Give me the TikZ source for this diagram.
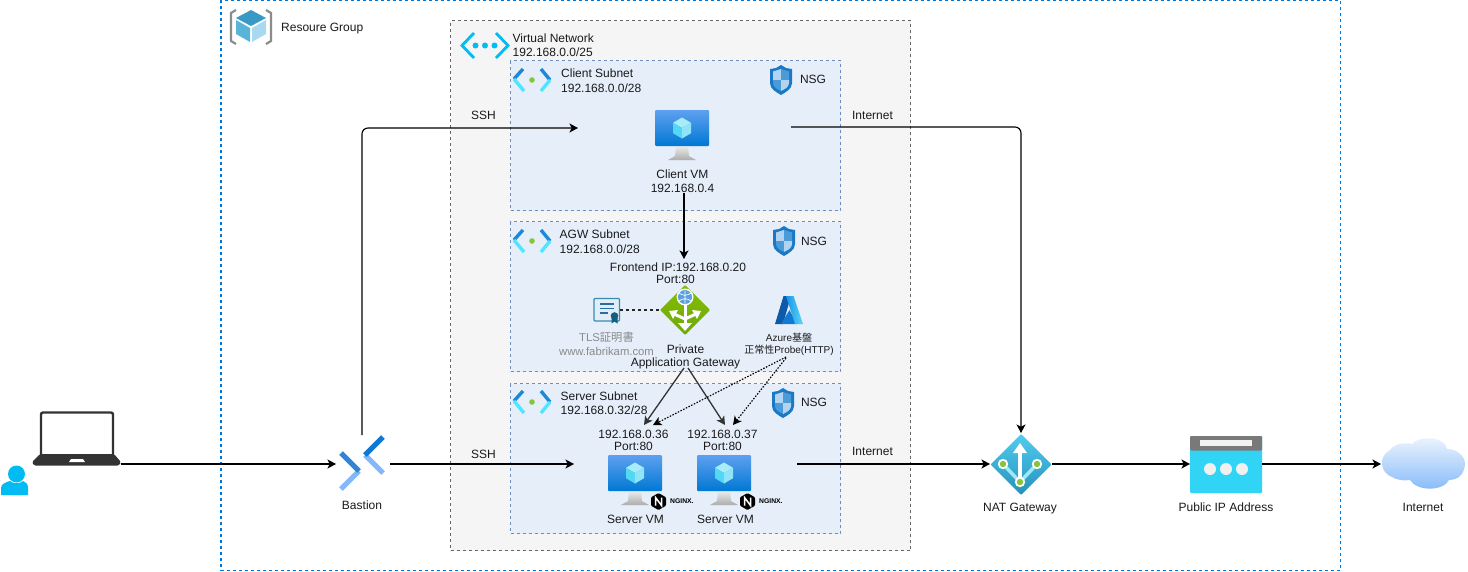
\documentclass[tikz,border=0pt]{standalone}
\usepackage{fontspec}
\setmainfont{Liberation Sans}
\newfontfamily\cjk{Noto Sans CJK JP}
\usetikzlibrary{arrows.meta}
\definecolor{rgblue}{HTML}{0078D7}
\definecolor{vnetfill}{HTML}{F5F5F5}
\definecolor{vnetline}{HTML}{666666}
\definecolor{subfill}{HTML}{E6EEFA}
\definecolor{subline}{HTML}{6C8EBF}
\definecolor{txt}{HTML}{1A1A1A}
\definecolor{cyanic}{HTML}{00BCF2}
\definecolor{subdark}{HTML}{1E88D8}
\definecolor{sublight}{HTML}{50E6FF}
\definecolor{greendot}{HTML}{86C53A}
\definecolor{shieldo}{HTML}{1B78C4}
\definecolor{shieldl}{HTML}{B2D4F0}
\definecolor{shieldm}{HTML}{4B9BD9}
\definecolor{vmtop}{HTML}{5EA0EF}
\definecolor{vmbot}{HTML}{0078D4}
\definecolor{cubea}{HTML}{A8ECFA}
\definecolor{cubeb}{HTML}{50D8F5}
\definecolor{cubec}{HTML}{8FE4F8}
\definecolor{rgtop}{HTML}{3999C6}
\definecolor{rgleft}{HTML}{59B4D9}
\definecolor{rgright}{HTML}{A8D9EE}
\definecolor{dark}{HTML}{333333}
\definecolor{basta}{HTML}{2F86D8}
\definecolor{bastb}{HTML}{85B8F8}
\definecolor{bastc}{HTML}{0F78D4}
\definecolor{agwtop}{HTML}{84BE00}
\definecolor{agwbot}{HTML}{6EA80F}
\definecolor{globe}{HTML}{5AA0DC}
\definecolor{certd}{HTML}{3A8BB0}
\definecolor{certf}{HTML}{E1EEF8}
\definecolor{certl}{HTML}{286EA0}
\definecolor{certr}{HTML}{145F7D}
\definecolor{aza}{HTML}{0E5AAA}
\definecolor{azb}{HTML}{1478D2}
\definecolor{azc}{HTML}{1996E6}
\definecolor{azd}{HTML}{5AD7FA}
\definecolor{nattop}{HTML}{50CDF0}
\definecolor{natbot}{HTML}{2691B9}
\definecolor{natline}{HTML}{9DE8FA}
\definecolor{pipc}{HTML}{32D4F5}
\definecolor{cloudt}{HTML}{F0F6FE}
\definecolor{cloudb}{HTML}{83B9F9}
\definecolor{graytxt}{HTML}{8A8A8A}
\tikzset{
  conn/.style={draw=black,line width=1.15pt,-{Stealth[length=8.5pt,width=9pt,inset=2.2pt]}},
  lbl/.style={font=\fontsize{12}{14.5}\selectfont,text=txt,inner sep=0pt,align=center},
  lbll/.style={font=\fontsize{12}{14.5}\selectfont,text=txt,inner sep=0pt,align=left,anchor=west},
  grayl/.style={lbl,font=\fontsize{11.3}{14}\selectfont,text=graytxt},
  area/.style={dash pattern=on 3pt off 3pt,line width=.9pt},
  pics/vmicon/.style={code={
    \shade[top color=gray!15,bottom color=gray!65] (-6,18) -- (6,18) -- (7,28) -- (14,32) -- (-14,32) -- (-7,28) -- cycle;
    \shade[top color=vmtop,bottom color=vmbot,rounded corners=1pt] (-27,-18) rectangle (27,18);
    \fill[cubea] (0,-10.5) -- (9,-5.2) -- (0,0) -- (-9,-5.2) -- cycle;
    \fill[cubeb] (-9,-5.2) -- (0,0) -- (0,10.5) -- (-9,5.2) -- cycle;
    \fill[cubec] (9,-5.2) -- (0,0) -- (0,10.5) -- (9,5.2) -- cycle;
  }},
  pics/subneticon/.style={code={
    \draw[line width=3.4pt,draw=subdark] (-9,-11) -- (-18,-1);
    \draw[line width=3.4pt,draw=sublight] (-18,-1) -- (-8,11);
    \draw[line width=3.4pt,draw=subdark] (9,-11) -- (18,0);
    \draw[line width=3.4pt,draw=sublight] (18,0) -- (9,11);
    \fill[greendot] (0,0) circle[radius=2.8];
  }},
  pics/shieldicon/.style={code={
    \fill[shieldo] (0,-15) -- (5,-12) -- (11,-11) -- (11,3) .. controls (11,9) and (5,12) .. (0,15) .. controls (-5,12) and (-11,9) .. (-11,3) -- (-11,-11) -- (-5,-12) -- cycle;
    \fill[shieldl] (0,-11) -- (0,0) -- (-8,0) -- (-8,-8.5) -- cycle;
    \fill[shieldm] (0,-11) -- (0,0) -- (8,0) -- (8,-8.5) -- cycle;
    \fill[shieldm] (-8,0) -- (0,0) -- (0,11) .. controls (-4,9) and (-8,7) .. (-8,3) -- cycle;
    \fill[shieldl] (8,0) -- (0,0) -- (0,11) .. controls (4,9) and (8,7) .. (8,3) -- cycle;
  }},
  pics/nginxicon/.style={code={
    \fill[black,rounded corners=1pt] (0,-8.5) -- (7.5,-4.2) -- (7.5,4.2) -- (0,8.5) -- (-7.5,4.2) -- (-7.5,-4.2) -- cycle;
    \draw[white,line width=1.5pt] (-3,4) -- (-3,-4) -- (3,4) -- (3,-4);
    \node[inner sep=0pt,anchor=west,font=\fontsize{6.8}{8}\selectfont\bfseries,text=black] at (11.5,-0.5) {NGINX.};
  }}
}
\begin{document}
\begin{tikzpicture}[x=1pt,y=-1pt]
\useasboundingbox (0,0) rectangle (1468,571);
\fill[white] (0,0) rectangle (1468,571);
% areas
\node[area,line width=1.1pt,draw=rgblue,inner sep=0pt,minimum width=1119.5pt,minimum height=570pt] (rg) at (780.75,285.5) {};
\node[area,draw=vnetline,fill=vnetfill,inner sep=0pt,minimum width=460pt,minimum height=530pt] (vnet) at (680.5,285.5) {};
\node[area,draw=subline,fill=subfill,inner sep=0pt,minimum width=330pt,minimum height=150pt] (clientsub) at (675.5,135.5) {};
\node[area,draw=subline,fill=subfill,inner sep=0pt,minimum width=330pt,minimum height=150pt] (agwsub) at (675.5,296.5) {};
\node[area,draw=subline,fill=subfill,inner sep=0pt,minimum width=330pt,minimum height=150pt] (serversub) at (675.5,458.5) {};
% resource group icon
\begin{scope}[shift={(251,27)}]
  \draw[line width=2.2pt,draw=gray!90] (-15,-17) -- (-20,-14) -- (-20,14) -- (-15,17);
  \draw[line width=2.2pt,draw=gray!90] (15,-17) -- (20,-14) -- (20,14) -- (15,17);
  \fill[rgtop] (0,-17) -- (15,-9) -- (0,-1) -- (-15,-9) -- cycle;
  \fill[rgleft] (-15,-7) -- (-1,1) -- (-1,15) -- (-15,7) -- cycle;
  \fill[rgright] (15,-7) -- (1,1) -- (1,15) -- (15,7) -- cycle;
\end{scope}
% vnet icon
\begin{scope}[shift={(485,45.5)}]
  \draw[cyanic,line width=2.8pt] (-11,-12.5) -- (-23,0) -- (-11,12.5);
  \draw[cyanic,line width=2.8pt] (11,-12.5) -- (23,0) -- (11,12.5);
  \fill[cyanic] (-9.5,0) circle[radius=3] (0,0) circle[radius=3] (9.5,0) circle[radius=3];
\end{scope}
\pic at (532,80) {subneticon};
\pic at (532,241) {subneticon};
\pic at (532,402) {subneticon};
\pic at (781,80) {shieldicon};
\pic at (784,241) {shieldicon};
\pic at (783,403) {shieldicon};
% VMs
\pic at (682,128) {vmicon};
\pic at (635,473) {vmicon};
\pic at (724,473) {vmicon};
\pic at (658.5,501.5) {nginxicon};
\pic at (747.5,501.5) {nginxicon};
% user and laptop
\fill[cyanic] (16.5,474) circle[radius=8.5];
\fill[cyanic] (1,495) -- (1,488) .. controls (1,484) and (6,482) .. (10,481) .. controls (13,484) and (20,484) .. (23,481) .. controls (26,482) and (28,484) .. (28,488) -- (28,495) -- cycle;
\draw[draw=dark,line width=2.4pt,rounded corners=2pt] (41,455) -- (41,412.5) -- (113,412.5) -- (113,455);
\fill[dark,rounded corners=1.5pt] (40,454) -- (114,454) -- (121,462) -- (119,465.5) -- (34,465.5) -- (32,462) -- cycle;
\fill[white] (69,462) -- (71,459) -- (83,459) -- (85,462) -- cycle;
% bastion
\draw[draw=bastb,line width=5.2pt] (359,471) -- (341,489);
\draw[draw=basta,line width=5.2pt] (341,453) -- (359,471);
\draw[draw=bastb,line width=5.2pt] (365,455) -- (383,473);
\draw[draw=bastc,line width=5.2pt] (383,437) -- (365,455);
% AGW diamond
\shade[top color=agwtop,bottom color=agwbot,rounded corners=1pt] (685,285) -- (710,310) -- (685,335) -- (660,310) -- cycle;
\begin{scope}[draw=white,fill=white]
  \draw[line width=3pt] (685,304) -- (685,324);
  \fill (685,331) -- (678,323) -- (692,323) -- cycle;
  \draw[line width=3pt] (685,319) -- (674,314);
  \fill (669,311) -- (678,310) -- (673,319) -- cycle;
  \draw[line width=3pt] (685,319) -- (696,314);
  \fill (701,311) -- (692,310) -- (697,319) -- cycle;
\end{scope}
\fill[white] (685,297) circle[radius=8.5];
\fill[globe] (685,297) circle[radius=7];
\draw[white,line width=.7pt] (679,293) .. controls (683,296) and (687,296) .. (691,293) (679,301) .. controls (683,298) and (687,298) .. (691,301) (685,290.5) -- (685,303.5);
% certificate
\draw[draw=certd,fill=certf,line width=1.2pt,rounded corners=1pt] (594,298.5) rectangle (619.5,321);
\draw[draw=certl,line width=1.1pt] (600,304) -- (614,304) (600,308.5) -- (614,308.5) (600,313) -- (608,313);
\fill[certr] (611.5,318) -- (611.5,323.5) -- (614.5,321.5) -- (617.5,323.5) -- (617.5,318) -- cycle;
\fill[certr] (614.5,316) circle[radius=3.8];
% azure logo
\fill[aza] (783.5,296) -- (791,296) -- (783,324) -- (775,324) -- cycle;
\fill[azb] (789.5,310) -- (797,324) -- (781,324) -- cycle;
\shade[left color=azc,right color=azd] (786,296) -- (793.5,296) -- (803,324) -- (795,324) -- cycle;
% NAT
\shade[top color=nattop,bottom color=natbot,rounded corners=1pt] (1021,434) -- (1051.5,464.5) -- (1021,495) -- (990.5,464.5) -- cycle;
\draw[draw=natline,line width=3.5pt] (1003,464) -- (1020,482) -- (1037,464);
\draw[white,line width=3.2pt] (1020,482) -- (1020,452);
\fill[white] (1020,443) -- (1027,453) -- (1013,453) -- cycle;
\foreach \p in {(1003,464),(1037,464),(1020,482)} {
  \fill[white] \p circle[radius=5.2];
  \fill[greendot] \p circle[radius=3.2];
}
% public IP
\fill[pipc,rounded corners=1pt] (1190,436) rectangle (1262,493);
\fill[gray!95!black,rounded corners=1pt] (1190,436) rectangle (1262,450.5);
\fill[gray!10] (1200,440) rectangle (1252,446);
\fill[gray!12] (1210,469) circle[radius=6] (1226,469) circle[radius=6] (1242,469) circle[radius=6];
% cloud
\shade[top color=cloudt,bottom color=cloudb,draw=none]
  (1392,477) .. controls (1380,473) and (1378,456) .. (1390,450)
  .. controls (1394,444) and (1404,442) .. (1412,444)
  .. controls (1418,436) and (1444,435) .. (1447,449)
  .. controls (1460,449) and (1468,460) .. (1464,469)
  .. controls (1462,477) and (1456,480) .. (1449,480)
  .. controls (1444,491) and (1417,492) .. (1410,480)
  .. controls (1404,481) and (1397,480) .. (1392,477) -- cycle;
% anchors
\node[inner sep=0pt,outer sep=0pt,minimum width=89pt,minimum height=55pt] (laptop) at (76,437.5) {};
\node[inner sep=0pt,outer sep=0pt,minimum width=54pt,minimum height=58pt] (bastion) at (363,464) {};
\node[inner sep=0pt,outer sep=0pt,minimum width=223pt,minimum height=50pt] (servers) at (685.5,464) {};
\node[inner sep=0pt,outer sep=0pt,minimum width=62pt,minimum height=62pt] (nat) at (1021,464) {};
\node[inner sep=0pt,outer sep=0pt,minimum width=72pt,minimum height=57pt] (pip) at (1226,464) {};
\node[inner sep=0pt,outer sep=0pt,minimum width=84pt,minimum height=50pt] (inet) at (1423,464) {};
\coordinate (sshin) at (578,128);
\coordinate (inetout) at (791,127);
\coordinate (vmout) at (684,193);
\coordinate (feip) at (684,259);
\coordinate (agwa) at (684,368);
\coordinate (agwb) at (688,368);
\coordinate (srva) at (644,425);
\coordinate (srvb) at (725,425);
\coordinate (proba) at (786,357);
\coordinate (probb) at (786,358);
\coordinate (srvc) at (653,425);
\coordinate (srvd) at (733,425);
\coordinate (certe) at (620,310);
\coordinate (agwl) at (660,310);
\coordinate (bastop) at (362,435);
% connectors
\draw[conn] (laptop.east |- bastion.west) -- (bastion.west);
\draw[conn,rounded corners=6pt] (bastop) |- (sshin);
\draw[conn] (bastion.east) -- (servers.west);
\draw[conn,rounded corners=6pt] (inetout) -| (nat.north);
\draw[conn] (servers.east) -- (nat.west);
\draw[conn] (nat.east) -- (pip.west);
\draw[conn] (pip.east) -- (inet.west);
\draw[conn] (vmout) -- (feip);
\draw[conn,draw=black!80,line width=1.3pt] (agwa) -- (srva);
\draw[conn,draw=black!80,line width=1.3pt] (agwb) -- (srvb);
\draw[conn,dash pattern=on 1.5pt off 1.5pt] (proba) -- (srvc);
\draw[conn,dash pattern=on 1.5pt off 1.5pt] (probb) -- (srvd);
\draw[draw=black!85,line width=1.1pt,dash pattern=on 3pt off 3pt] (certe) -- (agwl);
% labels
\node[lbll] (tRG) at (281,29) {Resoure Group};
\node[lbll] (tVN) at (512.5,45) {Virtual Network\\192.168.0.0/25};
\node[lbll] (tCS) at (561,80.5) {Client Subnet\\192.168.0.0/28};
\node[lbll] (tAS) at (559.5,241.5) {AGW Subnet\\192.168.0.0/28};
\node[lbll] (tSS) at (560.5,403) {Server Subnet\\192.168.0.32/28};
\node[lbl] (tN1) at (813,79) {NSG};
\node[lbl] (tN2) at (814,241) {NSG};
\node[lbl] (tN3) at (814,402) {NSG};
\node[lbl] (tSSH1) at (483.5,115) {SSH};
\node[lbl] (tI1) at (872.5,115) {Internet};
\node[lbl] (tCV) at (682.5,181) {Client VM\\192.168.0.4};
\node[lbl] (tFE) at (678,273) {Frontend IP:192.168.0.20\\[-2pt]Port:80\hspace*{5pt}};
\node[grayl] (tTLS) at (606.5,344) {TLS{\cjk 証明書}\\www.fabrikam.com};
\node[lbl] (tAG) at (685.5,357) {Private\\[-1pt]Application Gateway};
\node[lbl,font=\fontsize{10}{12}\selectfont] (tAZ) at (789,344) {Azure{\cjk 基盤}\\{\cjk 正常性}Probe(HTTP)};
\node[lbl] (tS1) at (633.5,440.5) {192.168.0.36\\[-2pt]Port:80};
\node[lbl] (tS2) at (722.5,440.5) {192.168.0.37\\[-2pt]Port:80};
\node[lbl] (tV1) at (635.5,519) {Server VM};
\node[lbl] (tV2) at (725.5,519) {Server VM};
\node[lbl] (tSSH2) at (483.5,454) {SSH};
\node[lbl] (tI2) at (872.5,451) {Internet};
\node[lbl] (tB) at (362,505) {Bastion};
\node[lbl] (tNAT) at (1020,508.5) {NAT Gateway};
\node[lbl] (tPIP) at (1226,507) {Public IP Address};
\node[lbl] (tI3) at (1423,507) {Internet};
\end{tikzpicture}
\end{document}
